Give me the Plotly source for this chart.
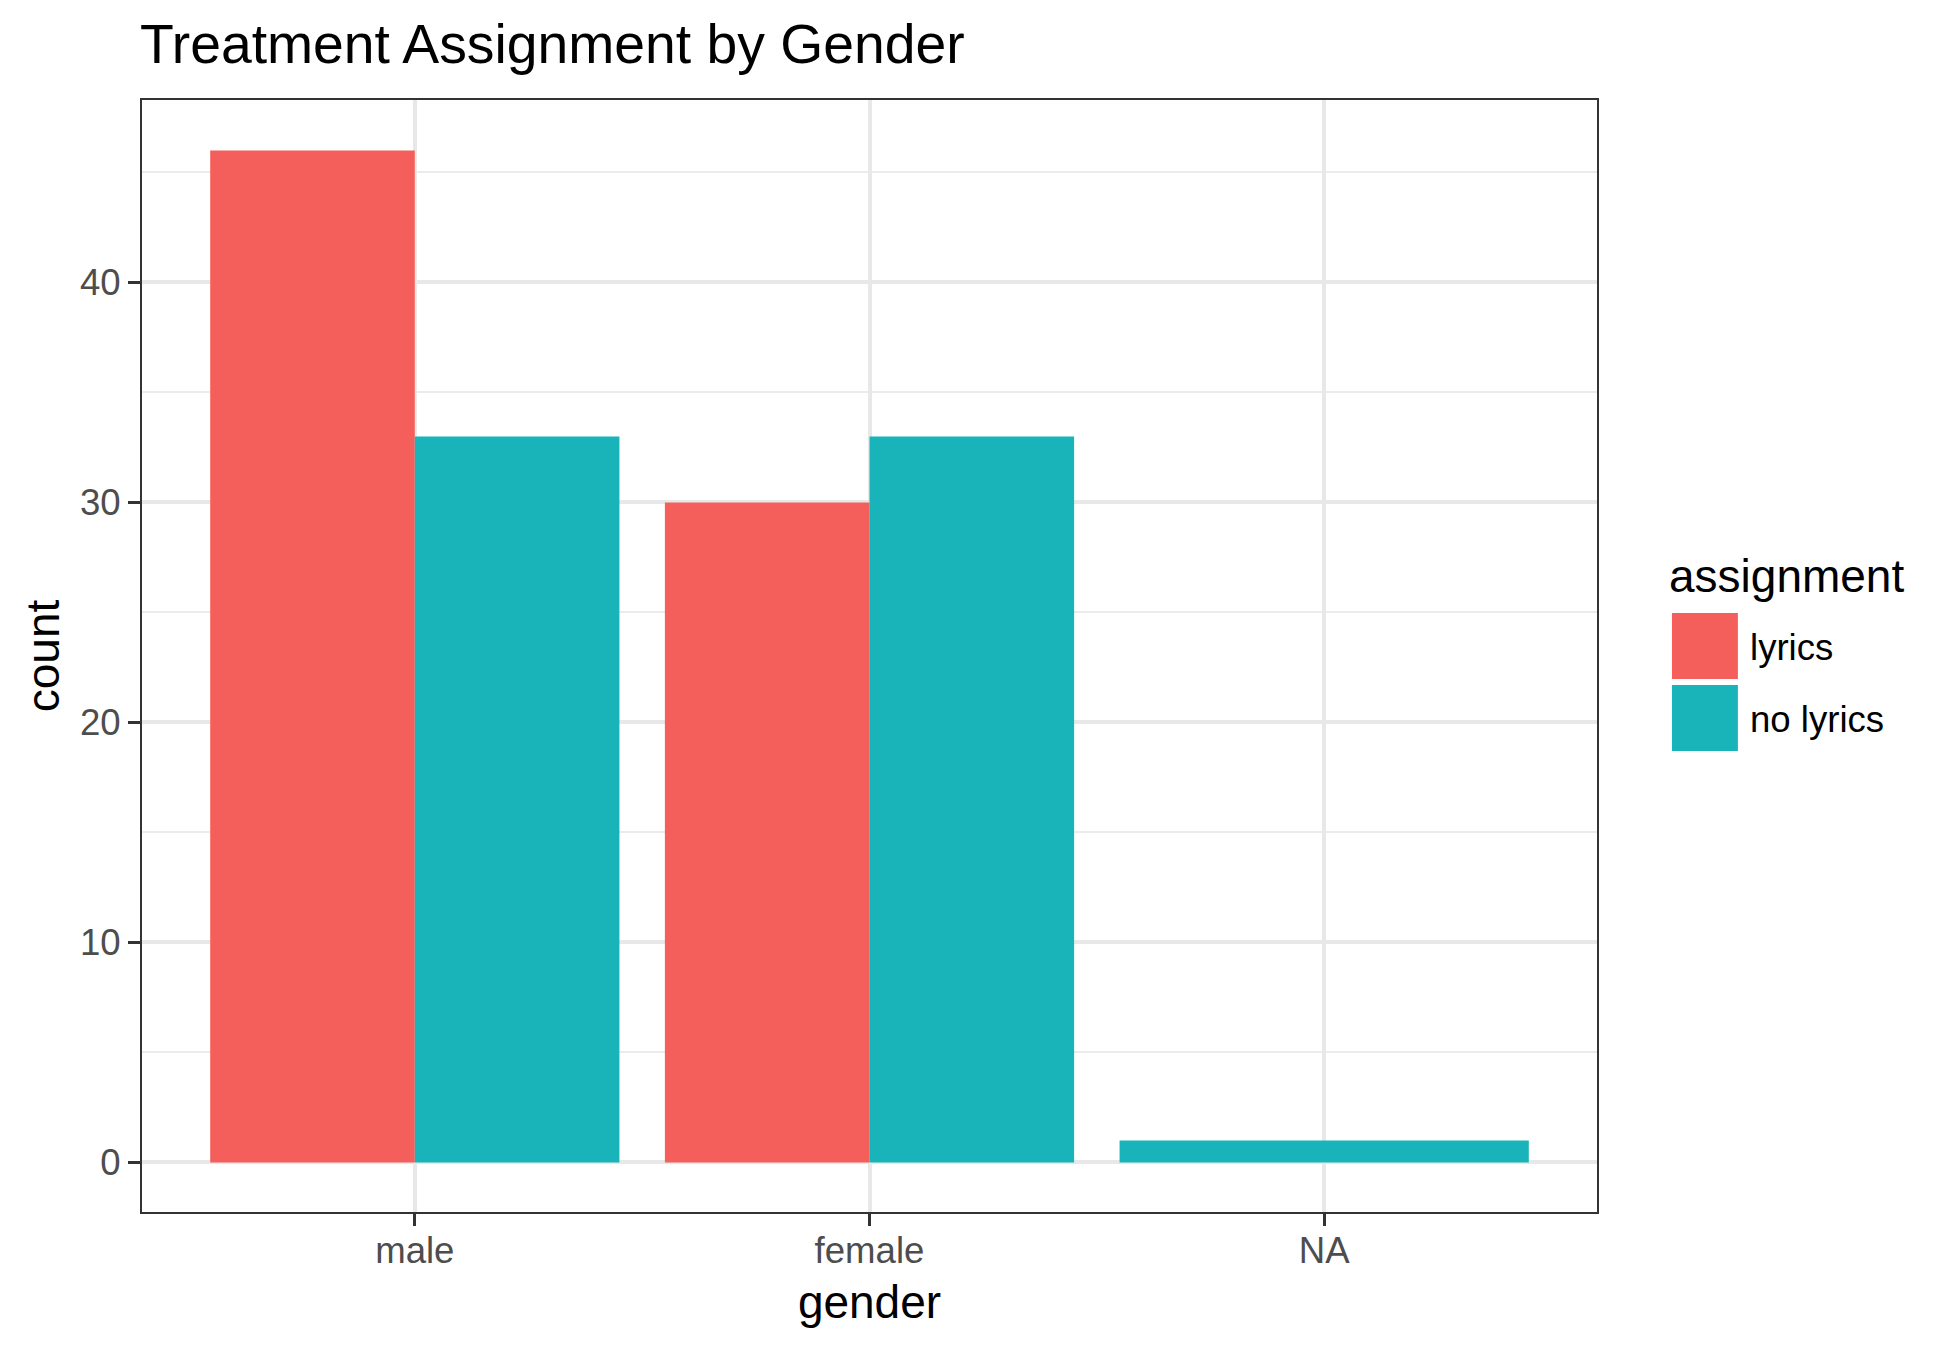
import plotly.graph_objects as go

genders = ["male", "female", "NA"]
assignments = ["lyrics", "no lyrics"]
lyrics_counts = [46, 30]
no_lyrics_counts = [33, 33, 1]
y_major = [0, 10, 20, 30, 40]
y_minor = [5, 15, 25, 35, 45]
COLORS = ["#F45F5B", "#19B4B9"]
FONT = "Liberation Sans"

L, R, T, B = 141.5, 1597.5, 100, 1212
W, H = R - L, B - T

fig = go.Figure()
fig.add_trace(go.Bar(
    x=list(range(len(lyrics_counts))), y=lyrics_counts, name=assignments[0],
    marker=dict(color=COLORS[0], line=dict(width=0)),
    width=[0.45] * len(lyrics_counts), offset=[-0.45] * len(lyrics_counts)))
fig.add_trace(go.Bar(
    x=list(range(len(no_lyrics_counts))), y=no_lyrics_counts, name=assignments[1],
    marker=dict(color=COLORS[1], line=dict(width=0)),
    width=[0.45, 0.45, 0.9], offset=[0, 0, -0.45]))

fig.update_layout(
    width=1950, height=1349, barmode="overlay", showlegend=False,
    margin=dict(l=L, r=1950 - R, t=T, b=1349 - B, pad=0),
    paper_bgcolor="white", plot_bgcolor="white",
    font=dict(family=FONT, color="black"),
    title=dict(text="Treatment Assignment by Gender", x=140 / 1950, xanchor="left", xref="container",
               y=1 - 44 / 1349, yanchor="middle", yref="container", font=dict(size=55.3, color="black")),
)
fig.update_xaxes(
    range=[-0.6, 2.6], tickmode="array", tickvals=[0, 1, 2], ticktext=genders,
    showgrid=True, gridcolor="#E8E8E8", gridwidth=3.5, zeroline=False,
    showline=True, mirror=True, linecolor="#333333", linewidth=2,
    ticks="outside", ticklen=12, tickwidth=3, tickcolor="#333333",
    ticklabelstandoff=-7,
    tickfont=dict(size=36.6, color="#4D4D4D", family=FONT),
    title=dict(text="gender", font=dict(size=46, color="black"), standoff=16),
)
fig.update_yaxes(
    range=[-2.25, 48.29], tickmode="array", tickvals=y_major,
    showgrid=True, gridcolor="#E8E8E8", gridwidth=3.5, zeroline=False,
    minor=dict(tickmode="array", tickvals=y_minor, showgrid=True, gridcolor="#EBEBEB", gridwidth=2, ticks=""),
    showline=True, mirror=True, linecolor="#333333", linewidth=2,
    ticks="outside", ticklen=12, tickwidth=3, tickcolor="#333333",
    tickfont=dict(size=36.6, color="#4D4D4D", family=FONT),
    title=dict(text="count", font=dict(size=46, color="black"), standoff=6),
)

key_x0, key_size, key_gap, key_top = 1672.5, 66, 72, 613
fig.add_annotation(xref="paper", yref="paper", x=(1668 - L) / W, y=(B - 576) / H,
                   text="assignment", showarrow=False, xanchor="left", yanchor="middle",
                   font=dict(size=46, color="black"))
for i, (name, col) in enumerate(zip(assignments, COLORS)):
    top = key_top + i * key_gap
    fig.add_shape(type="rect", xref="paper", yref="paper",
                  x0=(key_x0 - L) / W, x1=(key_x0 + key_size - L) / W,
                  y0=(B - top - key_size) / H, y1=(B - top) / H,
                  fillcolor=col, line_width=0)
    fig.add_annotation(xref="paper", yref="paper", x=(1749 - L) / W, y=(B - top - key_size / 2 - 1) / H,
                       text=name, showarrow=False, xanchor="left", yanchor="middle",
                       font=dict(size=36.6, color="black"))

fig.write_html("out.html", post_script="document.body.style.margin='0';",
               config=dict(displayModeBar=False))
